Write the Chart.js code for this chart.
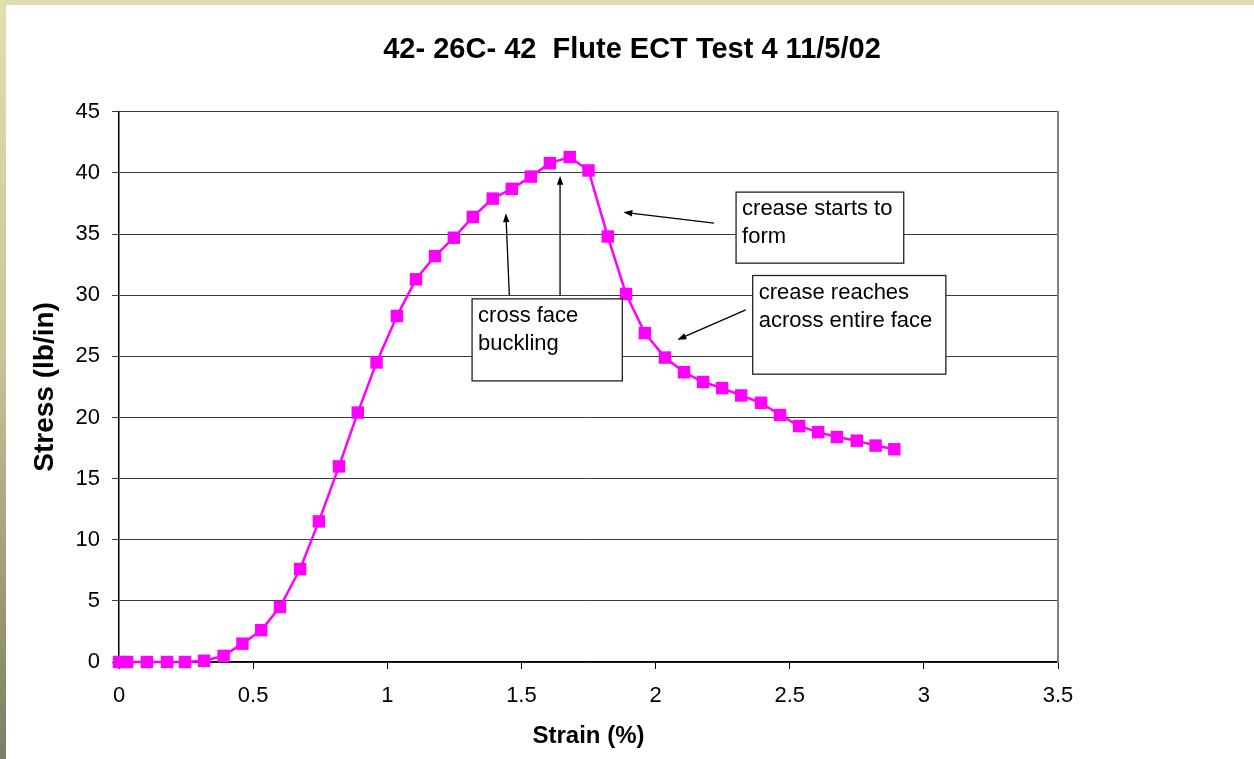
<!DOCTYPE html>
<html>
<head>
<meta charset="utf-8">
<script src="https://cdn.jsdelivr.net/npm/chart.js@4/dist/chart.umd.min.js"></script>
<style>
	body { margin: 0; background: #FFFFFF; width: 1254px; height: 759px; overflow: hidden; position: relative; }
	#band_top { position: absolute; left: 0; top: 0; width: 1254px; height: 5px; background: #E1DEB1; }
	#band_left { position: absolute; left: 0; top: 0; width: 6px; height: 759px; background: linear-gradient(#E1DEB1, #C9C79A 45%, #7E7C62); }
	#myChart { position: absolute; left: 6px; top: 5px; }
</style>
</head>
<body>
<div id="band_top"></div>
<div id="band_left"></div>
<canvas id="myChart" width="1248" height="754"></canvas>
<script>
var chart_title = '42- 26C- 42  Flute ECT Test 4 11/5/02';	//グラフタイトル
var x_title = 'Strain (%)';		//横軸
var y_title = 'Stress (lb/in)';	//縦軸

//ひずみ (%)
var strain_val = [0, 0.03, 0.104, 0.179, 0.246, 0.317, 0.39, 0.46, 0.53, 0.60, 0.675, 0.745, 0.82, 0.89,
	0.96, 1.036, 1.107, 1.178, 1.248, 1.319, 1.393, 1.464, 1.535, 1.606, 1.68, 1.75, 1.822, 1.89,
	1.96, 2.035, 2.106, 2.177, 2.248, 2.319, 2.393, 2.464, 2.535, 2.606, 2.676, 2.75, 2.82, 2.89];
//応力 (lb/in)
var stress_val = [0, 0, 0, 0, 0, 0.1, 0.5, 1.5, 2.6, 4.5, 7.6, 11.5, 16.0, 20.4,
	24.5, 28.3, 31.3, 33.2, 34.7, 36.4, 37.9, 38.7, 39.7, 40.8, 41.3, 40.2, 34.8, 30.1,
	26.9, 24.9, 23.7, 22.9, 22.4, 21.8, 21.2, 20.2, 19.3, 18.8, 18.4, 18.1, 17.7, 17.4];

//目盛りラベル
var x_ticks = ['0', '0.5', '1', '1.5', '2', '2.5', '3', '3.5'];

//注釈（テキスト、枠の位置はデータ座標）
var note_text = [['cross face', 'buckling'], ['crease starts to', 'form'], ['crease reaches', 'across entire face']];
var note_box = [[1.316, 29.7, 1.876, 22.99], [2.300, 38.43, 2.925, 32.62], [2.362, 31.61, 3.082, 23.54]];
//矢印（始点 x, y → 先端 x, y）
var note_arrow = [[1.455, 29.97, 1.442, 36.71], [1.644, 29.95, 1.644, 39.76], [2.218, 35.89, 1.880, 36.79], [2.336, 28.80, 2.081, 26.35]];

var font_name = '"Liberation Sans", Arial, sans-serif';

/* 矢印の描画 */
function draw_arrow(ctx, x1, y1, x2, y2) {
	var ang = Math.atan2(y2 - y1, x2 - x1);
	var len = 9, wid = 3.2;

	ctx.beginPath();
	ctx.moveTo(x1, y1);
	ctx.lineTo(x2 - Math.cos(ang) * len * 0.8, y2 - Math.sin(ang) * len * 0.8);
	ctx.stroke();

	ctx.beginPath();
	ctx.moveTo(x2, y2);
	ctx.lineTo(x2 - Math.cos(ang) * len - Math.sin(ang) * wid, y2 - Math.sin(ang) * len + Math.cos(ang) * wid);
	ctx.lineTo(x2 - Math.cos(ang) * len + Math.sin(ang) * wid, y2 - Math.sin(ang) * len - Math.cos(ang) * wid);
	ctx.closePath();
	ctx.fill();
}

/* 注釈プラグイン */
var note_plugin = {
	id: 'note_plugin',
	afterDatasetsDraw: function(chart) {
		var ctx = chart.ctx;
		var xs = chart.scales.x, ys = chart.scales.y;
		var i, j;

		ctx.save();
		ctx.strokeStyle = '#000000';
		ctx.fillStyle = '#000000';
		ctx.lineWidth = 1.3;

		for (i = 0; i < note_arrow.length; i++) {
			var a = note_arrow[i];
			draw_arrow(ctx, xs.getPixelForValue(a[0]), ys.getPixelForValue(a[1]), xs.getPixelForValue(a[2]), ys.getPixelForValue(a[3]));
		}

		for (i = 0; i < note_box.length; i++) {
			var b = note_box[i];
			var left = xs.getPixelForValue(b[0]);
			var top = ys.getPixelForValue(b[1]);
			var right = xs.getPixelForValue(b[2]);
			var bottom = ys.getPixelForValue(b[3]);

			ctx.fillStyle = '#FFFFFF';
			ctx.fillRect(left, top, right - left, bottom - top);
			ctx.strokeStyle = '#222222';
			ctx.lineWidth = 1.3;
			ctx.strokeRect(left, top, right - left, bottom - top);

			ctx.fillStyle = '#000000';
			ctx.font = '22px ' + font_name;
			ctx.textBaseline = 'middle';
			ctx.textAlign = 'left';
			for (j = 0; j < note_text[i].length; j++) {
				ctx.fillText(note_text[i][j], left + 6, top + 17 + j * 28);
			}
		}
		ctx.restore();
	}
};

var points = [];
for (var i = 0; i < strain_val.length; i++) {
	points.push({x: strain_val[i], y: stress_val[i]});
}

var ctx = document.getElementById('myChart').getContext('2d');

var myChart = new Chart(ctx, {
	type: 'line',
	data: {
		datasets: [
			{
				label: 'ECT',
				data: points,
				borderColor: '#FF00FF',
				backgroundColor: '#FF00FF',
				borderWidth: 2.5,
				tension: 0,
				clip: false,
				pointStyle: 'rect',
				pointRadius: 8.8,
				pointBorderWidth: 0,
				pointBackgroundColor: '#FF00FF'
			}
		]
	},
	options: {
		responsive: false,
		animation: false,
		layout: {
			padding: {left: 4, right: 0, top: 0, bottom: 8}
		},
		plugins: {
			legend: { display: false },
			tooltip: { enabled: false },
			title: {
				display: true,
				text: chart_title,
				color: '#000000',
				font: { family: font_name, size: 29, weight: 'bold' },
				padding: { top: 28, bottom: 44 }
			}
		},
		scales: {
			x: {
				type: 'linear',
				min: 0,
				max: 3.5,
				afterFit: function(scale) { scale.height = 89; },
				ticks: {
					stepSize: 0.5,
					color: '#000000',
					padding: 14,
					font: { family: font_name, size: 22 },
					callback: function(value, index) { return x_ticks[index]; }
				},
				grid: {
					drawOnChartArea: false,
					drawTicks: true,
					tickLength: 7,
					color: '#000000'
				},
				border: { color: '#000000', width: 1.5 },
				title: {
					display: true,
					text: x_title,
					color: '#000000',
					font: { family: font_name, size: 24, weight: 'bold' },
					padding: 0
				}
			},
			y: {
				min: 0,
				max: 45,
				afterFit: function(scale) { scale.width = 109; },
				ticks: {
					stepSize: 5,
					color: '#000000',
					padding: 12,
					font: { family: font_name, size: 22 }
				},
				grid: {
					color: '#3A3A3A',
					lineWidth: 1,
					tickLength: 7
				},
				border: { color: '#000000', width: 1.5 },
				title: {
					display: true,
					text: y_title,
					color: '#000000',
					font: { family: font_name, size: 28, weight: 'bold' },
					padding: { top: 18, bottom: 0 }
				}
			},
			y_right: {
				position: 'right',
				afterFit: function(scale) { scale.width = 196; },
				ticks: { display: false },
				grid: { drawOnChartArea: false, drawTicks: false },
				border: { color: '#808080', width: 2 }
			}
		}
	},
	plugins: [note_plugin]
});
</script>
</body>
</html>
